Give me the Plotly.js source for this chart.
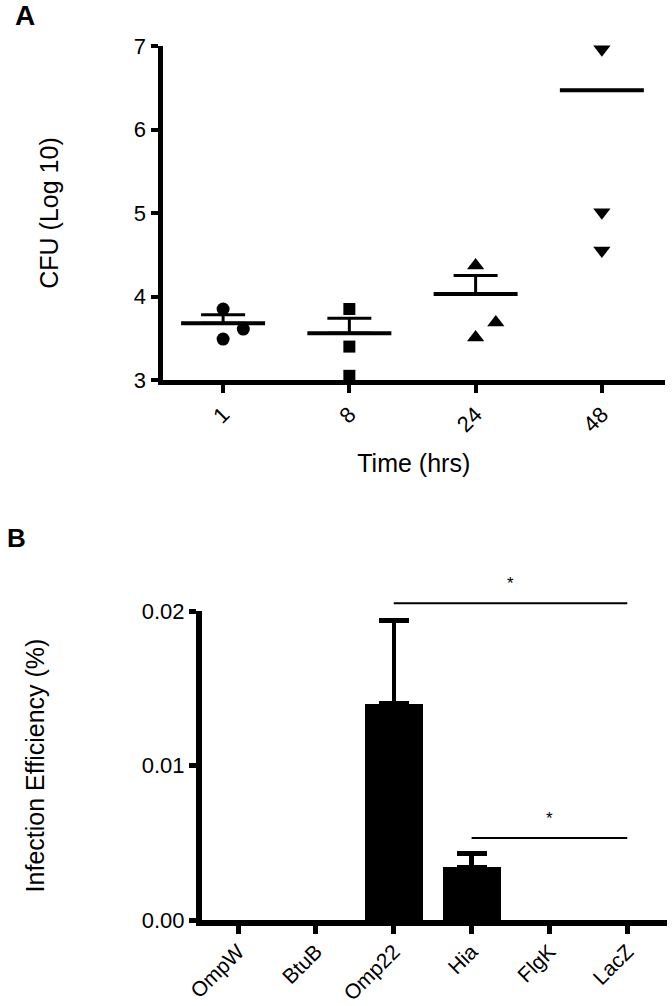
<!DOCTYPE html>
<html>
<head>
<meta charset="utf-8">
<script src="https://cdn.plot.ly/plotly-3.0.1.min.js"></script>
<style>html,body{margin:0;padding:0;background:#fff;}#chart{width:672px;height:1006px;}</style>
</head>
<body>
<div id="chart"></div>
<script>
// ---------- Panel A data ----------
const timeLabels = ['1', '8', '24', '48'];
const cfu1h = [3.85, 3.61, 3.49];
const cfu8h = [3.85, 3.40, 3.05];
const cfu24h = [4.37, 3.69, 3.51];
const cfu48h = [6.96, 5.01, 4.55];
const cfuMean = [3.68, 3.56, 4.03, 6.47];
const cfuSem = [0.10, 0.18, 0.22, NaN];

// ---------- Panel B data ----------
const genes = ['OmpW', 'BtuB', 'Omp22', 'Hia', 'FlgK', 'LacZ'];
const efficiency = [0, 0, 0.0140, 0.0034, 0, 0];
const efficiencySem = [NaN, NaN, 0.0054, 0.0009, NaN, NaN];
const sigFrom = [2, 3];
const sigTo = [5, 5];
const sigLevel = [0.0205, 0.0053];
const sigLabel = ['*', '*'];

// ---------- style (horizontal scatter offsets of points inside a group) ----------
const jitter = [[0, 0.16, 0], [0, 0, 0], [0, 0.16, 0], [0, 0, 0]];
const groups = [cfu1h, cfu8h, cfu24h, cfu48h];
const symbols = ['circle', 'square', 'triangle-up', 'triangle-down'];
const sizes = [13, 12, 15, 15];

const FONT = 'Liberation Sans, Arial, sans-serif';
const yBMax = 0.02;
const upperOnly = arr => arr.map(v => (isNaN(v) ? NaN : 0));

const traces = [];
groups.forEach((vals, g) => {
  traces.push({
    type: 'scatter', mode: 'markers', xaxis: 'x', yaxis: 'y',
    x: vals.map((v, i) => g + jitter[g][i]), y: vals,
    marker: {symbol: symbols[g], size: sizes[g], color: 'black'},
    cliponaxis: false, hoverinfo: 'y'
  });
});
traces.push({
  type: 'scatter', mode: 'markers', xaxis: 'x', yaxis: 'y',
  x: timeLabels.map((t, i) => i), y: cfuMean,
  marker: {symbol: 'line-ew', size: 60, color: 'black', line: {color: 'black', width: 4}},
  error_y: {type: 'data', symmetric: false, array: cfuSem, arrayminus: upperOnly(cfuSem),
            color: 'black', thickness: 3, width: 22},
  cliponaxis: false, hoverinfo: 'y'
});
traces.push({
  type: 'bar', xaxis: 'x2', yaxis: 'y2',
  x: genes.map((g, i) => i), y: efficiency, width: 0.745,
  marker: {color: 'black', line: {width: 0}},
  error_y: {type: 'data', symmetric: false, array: efficiencySem, arrayminus: upperOnly(efficiencySem),
            color: 'black', thickness: 4.5, width: 15},
  hoverinfo: 'y'
});

const shapes = [];
const annotations = [
  {text: '<b>A</b>', xref: 'paper', yref: 'paper', x: 25 / 672, y: 1 - 16 / 1006, xanchor: 'center', yanchor: 'middle',
   showarrow: false, font: {family: FONT, size: 28, color: 'black'}},
  {text: '<b>B</b>', xref: 'paper', yref: 'paper', x: 16 / 672, y: 1 - 538 / 1006, xanchor: 'center', yanchor: 'middle',
   showarrow: false, font: {family: FONT, size: 26, color: 'black'}}
];
sigFrom.forEach((a, i) => {
  shapes.push({type: 'line', xref: 'x2', yref: 'y2 domain', x0: a, x1: sigTo[i],
    y0: sigLevel[i] / yBMax, y1: sigLevel[i] / yBMax, line: {color: 'black', width: 2}});
  annotations.push({text: sigLabel[i], xref: 'x2', yref: 'y2 domain', x: (a + sigTo[i]) / 2,
    y: sigLevel[i] / yBMax, yanchor: 'bottom', yshift: 8, showarrow: false,
    font: {family: FONT, size: 17, color: 'black'}});
});

const axCommon = {
  showgrid: false, zeroline: false, showline: true, linecolor: 'black', ticks: 'outside',
  tickcolor: 'black', tickfont: {family: FONT, size: 22, color: 'black'}, fixedrange: true
};

const layout = {
  width: 672, height: 1006, margin: {l: 0, r: 0, t: 0, b: 0}, showlegend: false,
  paper_bgcolor: 'white', plot_bgcolor: 'white', font: {family: FONT, color: 'black'},
  xaxis: Object.assign({}, axCommon, {
    domain: [162.5 / 672, 665 / 672], anchor: 'y', range: [-0.48, 3.5],
    tickvals: [0, 1, 2, 3], ticktext: timeLabels, tickangle: -45,
    linewidth: 5, ticklen: 8, tickwidth: 4,
    title: {text: 'Time (hrs)', font: {family: FONT, size: 25, color: 'black'}, standoff: 20}
  }),
  yaxis: Object.assign({}, axCommon, {
    domain: [1 - 380 / 1006, 1 - 46 / 1006], anchor: 'x', range: [3, 7],
    tickvals: [3, 4, 5, 6, 7], linewidth: 5, ticklen: 7, tickwidth: 4,
    title: {text: 'CFU (Log 10)', font: {family: FONT, size: 25, color: 'black'}, standoff: 70}
  }),
  xaxis2: Object.assign({}, axCommon, {
    domain: [202 / 672, 667 / 672], anchor: 'y2', range: [-0.463, 5.51],
    tickvals: genes.map((g, i) => i), ticktext: genes, tickangle: -45,
    tickfont: {family: FONT, size: 21, color: 'black'}, ticklabelstandoff: -3,
    linewidth: 6, ticklen: 8, tickwidth: 5
  }),
  yaxis2: Object.assign({}, axCommon, {
    domain: [1 - 920 / 1006, 1 - 611 / 1006], anchor: 'x2', range: [0, yBMax],
    tickvals: [0, 0.01, 0.02], tickformat: '.2f', linewidth: 6, ticklen: 7, tickwidth: 5,
    title: {text: 'Infection Efficiency (%)', font: {family: FONT, size: 25, color: 'black'}, standoff: 92}
  }),
  shapes: shapes, annotations: annotations, bargap: 0
};

Plotly.newPlot('chart', traces, layout, {displayModeBar: false, staticPlot: true});
</script>
</body>
</html>
